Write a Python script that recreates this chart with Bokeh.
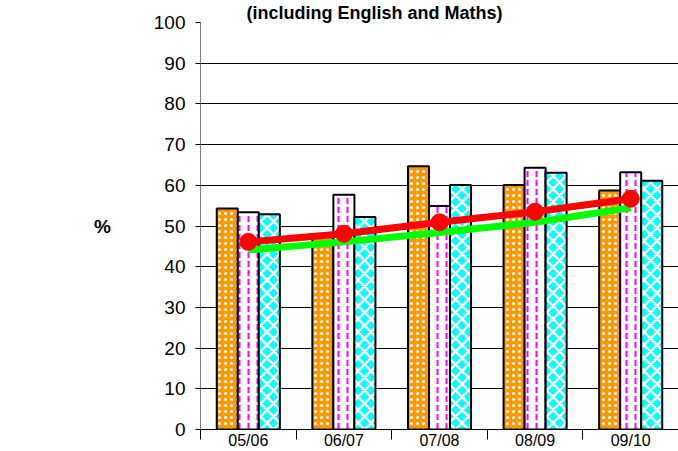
import numpy as np
from bokeh.plotting import figure
from bokeh.models import Range1d, FixedTicker
from bokeh.embed import file_html
from bokeh.resources import INLINE

categories = ["05/06", "06/07", "07/08", "08/09", "09/10"]
orange_vals = [54.3, 47.5, 64.7, 60.1, 58.7]
pink_vals = [53.4, 57.7, 54.9, 64.3, 63.2]
cyan_vals = [52.9, 52.2, 60.1, 63.1, 61.1]
red_vals = [46.1, 48.1, 50.9, 53.5, 56.7]
green_vals = [44.1, 46.1, 48.4, 50.9, 54.5]
y_ticks = [0, 10, 20, 30, 40, 50, 60, 70, 80, 90, 100]

FONT = "Liberation Sans"
n = len(categories)
centers = np.arange(n) + 0.5
bw = 0.22

p = figure(width=678, height=451, output_backend="svg", toolbar_location=None,
           x_range=Range1d(0, n), y_range=Range1d(0, 100),
           min_border_left=200, min_border_right=0, min_border_top=22, min_border_bottom=0,
           title="(including English and Maths)")
p.outline_line_color = None
p.background_fill_color = "white"

p.title.text_font = FONT
p.title.text_font_size = "18px"
p.title.text_font_style = "bold"
p.title.text_color = "black"
p.title.align = "left"
p.title.offset = 46
p.title.standoff = 0

# axes
p.xaxis.ticker = FixedTicker(ticks=list(centers), minor_ticks=list(range(n + 1)))
p.xaxis.major_label_overrides = {float(c): lab for c, lab in zip(centers, categories)}
p.xaxis.major_tick_line_color = None
p.xaxis.major_tick_out = 0
p.xaxis.major_tick_in = 0
p.xaxis.minor_tick_in = 0
p.xaxis.minor_tick_out = 10
p.xaxis.minor_tick_line_color = "black"
p.xaxis.axis_line_color = "black"
p.xaxis.major_label_text_font = FONT
p.xaxis.major_label_text_font_size = "16px"
p.xaxis.major_label_text_color = "black"
p.xaxis.major_label_standoff = -8

p.yaxis.ticker = FixedTicker(ticks=y_ticks)
p.yaxis.minor_tick_line_color = None
p.yaxis.major_tick_in = 0
p.yaxis.major_tick_out = 5
p.yaxis.major_tick_line_color = "black"
p.yaxis.axis_line_color = "#808080"
p.yaxis.major_label_text_font = FONT
p.yaxis.major_label_text_font_size = "19px"
p.yaxis.major_label_text_color = "black"
p.yaxis.major_label_standoff = 10
p.yaxis.axis_label = "%"
p.yaxis.axis_label_orientation = "horizontal"
p.yaxis.axis_label_text_font = FONT
p.yaxis.axis_label_text_font_size = "19px"
p.yaxis.axis_label_text_font_style = "bold"
p.yaxis.axis_label_text_color = "black"
p.yaxis.axis_label_standoff = 40

p.xgrid.grid_line_color = None
p.ygrid.ticker = FixedTicker(ticks=y_ticks)
p.ygrid.grid_line_color = "black"
p.ygrid.grid_line_width = 1

# bars
p.vbar(x=centers - bw, top=orange_vals, width=bw, bottom=0,
       fill_color="#FF9900", line_color="black", line_width=2,
       hatch_pattern="dot", hatch_color="white", hatch_scale=6, hatch_weight=1.5)
p.vbar(x=centers, top=pink_vals, width=bw, bottom=0,
       fill_color="white", line_color="black", line_width=2,
       hatch_pattern="vertical_dash", hatch_color="#FF00FF", hatch_scale=9, hatch_weight=2)
p.vbar(x=centers + bw, top=cyan_vals, width=bw, bottom=0,
       fill_color="#00FFFF", line_color="black", line_width=2,
       hatch_pattern="diagonal_cross", hatch_color="white", hatch_scale=13, hatch_weight=2.5)

# lines
p.line(centers, green_vals, line_color="#00FF00", line_width=7)
p.line(centers, red_vals, line_color="#FF0000", line_width=7)
p.scatter(centers, red_vals, size=17, fill_color="#FF0000", line_color="#FF0000")

open("out.html", "w").write(file_html(p, INLINE))
